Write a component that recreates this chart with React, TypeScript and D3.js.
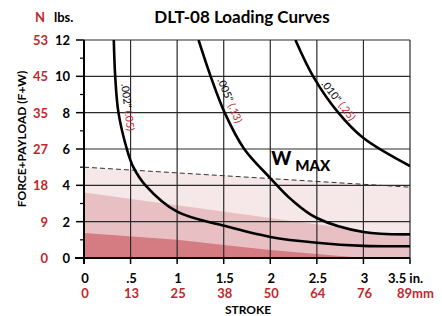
import { useMemo } from "react";
import * as d3 from "d3";

type Pt = [number, number];

const strokeTicks = [0, 0.5, 1, 1.5, 2, 2.5, 3, 3.5];
const inchLabels = ["0", ".5", "1", "1.5", "2", "2.5", "3", "3.5"];
const mmLabels = ["0", "13", "25", "38", "50", "64", "76", "89"];

const lbsTicks = [0, 2, 4, 6, 8, 10, 12];
const newtonLabels = ["0", "9", "18", "27", "35", "45", "53"];
const minorTicks = [1, 3, 5, 7, 9, 11];

const curve002: Pt[] = [[0.32, 12], [0.335, 10], [0.37, 8], [0.46, 6], [0.53, 5], [0.66, 4], [1.0, 2.55], [1.5, 1.78], [2.0, 1.16], [2.5, 0.84], [3.0, 0.67], [3.5, 0.65]];
const curve005: Pt[] = [[1.23, 12], [1.36, 10], [1.51, 8], [1.72, 6], [2.0, 4.4], [2.23, 3.2], [2.5, 2.2], [3.0, 1.43], [3.5, 1.3]];
const curve010: Pt[] = [[2.27, 12], [2.46, 10], [2.73, 8], [3.0, 6.6], [3.5, 5.06]];

const wMax: Pt[] = [[0, 5.0], [3.5, 3.9]];
const midBand: Pt[] = [[0, 3.6], [2, 2.2], [3.5, 1.15]];
const lowBand: Pt[] = [[0, 1.38], [1, 1.0], [1.5, 0.72], [2, 0.44], [3, 0], [3.5, 0]];

const curveLabels = [
  { inch: '.002"', mm: "(.05)", at: [0.4, 9.58] as Pt, angle: 83 },
  { inch: '.005"', mm: "(.13)", at: [1.43, 9.8] as Pt, angle: 67 },
  { inch: '.010"', mm: "(.25)", at: [2.545, 9.58] as Pt, angle: 52 },
];

const WIDTH = 442;
const HEIGHT = 316;
const MARGIN = { top: 40, right: 32, bottom: 58, left: 84 };

const RED = "#c1272d";
const FONT = "Lato, 'Open Sans', sans-serif";

export default function App() {
  const x = useMemo(() => d3.scaleLinear().domain([0, 3.5]).range([MARGIN.left, WIDTH - MARGIN.right]), []);
  const y = useMemo(() => d3.scaleLinear().domain([0, 12]).range([HEIGHT - MARGIN.bottom, MARGIN.top]), []);

  const area = d3.area<Pt>().x((d) => x(d[0])).y0(y(0)).y1((d) => y(d[1]));
  const line = d3.line<Pt>().x((d) => x(d[0])).y((d) => y(d[1])).curve(d3.curveCatmullRom.alpha(0.5));
  const straight = d3.line<Pt>().x((d) => x(d[0])).y((d) => y(d[1]));

  const x0 = x(0), x1 = x(3.5), y0 = y(0), y1 = y(12);

  return (
    <div style={{ position: "absolute", left: 0, top: 0 }}>
      <svg width={WIDTH} height={HEIGHT} style={{ display: "block" }} fontFamily={FONT}>
        <defs>
          <clipPath id="plot">
            <rect x={x0} y={y1} width={x1 - x0} height={y0 - y1} />
          </clipPath>
        </defs>

        <text x={242} y={23} textAnchor="middle" fontSize={17} fontWeight="bold">DLT-08 Loading Curves</text>
        <text x={35} y={22} fontSize={13} fontWeight="bold" fill={RED}>N</text>
        <text x={54} y={22} fontSize={13} fontWeight="bold">lbs.</text>

        {/* bands */}
        <path d={area(wMax) ?? ""} fill="#f6e7e9" />
        <path d={area(midBand) ?? ""} fill="#e8bfc3" />
        <path d={area(lowBand) ?? ""} fill="#d47c82" />

        {/* grid */}
        {lbsTicks.slice(1).map((t) => (
          <line key={"h" + t} x1={x0} x2={x1} y1={y(t)} y2={y(t)} stroke="#2b2b2b" strokeWidth={1.2} />
        ))}
        {strokeTicks.slice(1).map((t) => (
          <line key={"v" + t} x1={x(t)} x2={x(t)} y1={y1} y2={y0} stroke="#2b2b2b" strokeWidth={1.2} />
        ))}

        <path d={straight(wMax) ?? ""} fill="none" stroke="#333" strokeWidth={1} strokeDasharray="5,3" />

        <g clipPath="url(#plot)">
          {[curve002, curve005, curve010].map((c, i) => (
            <path key={i} d={line(c) ?? ""} fill="none" stroke="#000" strokeWidth={2.6} />
          ))}
        </g>

        {curveLabels.map((l, i) => (
          <text key={i} transform={`translate(${x(l.at[0])},${y(l.at[1])}) rotate(${l.angle})`} fontSize={10.5}>
            {l.inch}
            <tspan fill={RED}> {l.mm}</tspan>
          </text>
        ))}

        <text x={x(2.0) + 1} y={y(5.1)} fontSize={19} fontWeight="900">W</text>
        <text x={x(2.0) + 25} y={y(4.78)} fontSize={15} fontWeight="900">MAX</text>

        {/* axes */}
        <line x1={x0} x2={x0} y1={y1} y2={y0 + 6} stroke="#000" strokeWidth={2} />
        <line x1={x0 - 9} x2={x1} y1={y0} y2={y0} stroke="#000" strokeWidth={2} />
        {lbsTicks.map((t, i) => (
          <g key={"yt" + t}>
            <line x1={x0 - 8} x2={x0} y1={y(t)} y2={y(t)} stroke="#000" strokeWidth={1.5} />
            <text x={70} y={y(t) + 5} textAnchor="end" fontSize={13} fontWeight="bold">{t}</text>
            <text x={48} y={y(t) + 5} textAnchor="end" fontSize={13} fontWeight="bold" fill={RED}>{newtonLabels[i]}</text>
          </g>
        ))}
        {minorTicks.map((t) => (
          <line key={"mt" + t} x1={x0 - 4} x2={x0} y1={y(t)} y2={y(t)} stroke="#000" strokeWidth={1.2} />
        ))}
        {strokeTicks.map((t, i) => {
          const last = i === strokeTicks.length - 1;
          return (
            <g key={"xt" + t}>
              <line x1={x(t)} x2={x(t)} y1={y0} y2={y0 + 6} stroke="#000" strokeWidth={1.5} />
              {last ? (
                <>
                  <text x={x(t) - 22} y={283} fontSize={13} fontWeight="bold">{inchLabels[i]} in.</text>
                  <text x={x(t) - 13} y={298} fontSize={13} fontWeight="bold" fill={RED}>{mmLabels[i]}mm</text>
                </>
              ) : (
                <>
                  <text x={x(t) + 1} y={283} textAnchor="middle" fontSize={13} fontWeight="bold">{inchLabels[i]}</text>
                  <text x={x(t) + 1} y={298} textAnchor="middle" fontSize={13} fontWeight="bold" fill={RED}>{mmLabels[i]}</text>
                </>
              )}
            </g>
          );
        })}

        <text x={248} y={314} textAnchor="middle" fontSize={12} fontWeight="bold">STROKE</text>
        <text transform={`translate(26,139) rotate(-90)`} textAnchor="middle" fontSize={12} fontWeight="bold">FORCE+PAYLOAD (F+W)</text>
      </svg>
    </div>
  );
}
